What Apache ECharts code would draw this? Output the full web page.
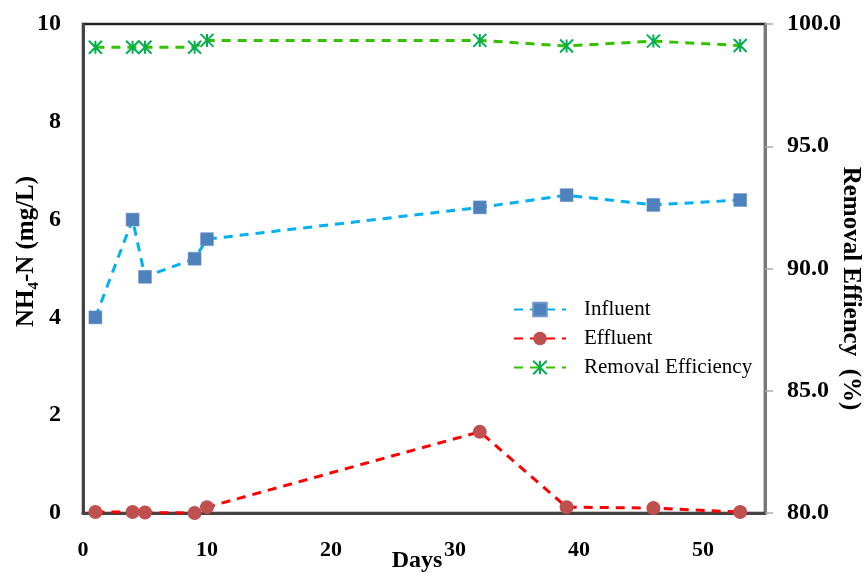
<!DOCTYPE html>
<html>
<head>
<meta charset="utf-8">
<script src="https://cdn.jsdelivr.net/npm/echarts@6/dist/echarts.min.js"></script>
<style>
html,body{margin:0;padding:0;background:#fff;}
#chart{width:866px;height:573px;}
</style>
</head>
<body>
<div id="chart"></div>
<script>
var days = [1, 4, 5, 9, 10, 32, 39, 46, 53];
var influent = [4.0, 6.0, 4.83, 5.2, 5.6, 6.25, 6.5, 6.3, 6.4];
var effluent = [0.02, 0.02, 0.01, 0.0, 0.12, 1.66, 0.12, 0.1, 0.02];
var removal = [99.05, 99.05, 99.05, 99.05, 99.33, 99.33, 99.1, 99.3, 99.12];
var leftTicks = [0, 2, 4, 6, 8, 10];
var rightTicks = [80, 85, 90, 95, 100];

function pairs(xs, ys) { return xs.map(function (x, i) { return [x, ys[i]]; }); }

var FONT = 'Liberation Serif';
var asterisk = 'path://M0,0 L20,20 M0,20 L20,0 M10,0 L10,20';

var chart = echarts.init(document.getElementById('chart'));
chart.setOption({
  animation: false,
  backgroundColor: '#fff',
  grid: { left: 83, right: 101, top: 24, bottom: 60, containLabel: false, outerBoundsMode: 'none',
          show: true, borderColor: '#222', borderWidth: 2.5 },
  legend: {
    orient: 'vertical',
    left: 508,
    top: 294,
    itemWidth: 52,
    itemHeight: 17,
    itemGap: 8,
    textStyle: { fontFamily: FONT, fontSize: 21, color: '#000', padding: [0, 0, 0, 13] },
    data: ['Influent', 'Effluent', 'Removal Efficiency']
  },
  xAxis: {
    type: 'value',
    min: 0, max: 55, interval: 10,
    name: 'Days',
    nameLocation: 'middle',
    nameGap: 36,
    nameMoveOverlap: false,
    nameTextStyle: { fontFamily: FONT, fontSize: 24, fontWeight: 'bold', color: '#000', padding: [0, 14, 0, 0] },
    axisLine: { show: true, lineStyle: { color: '#444', width: 3 } },
    axisTick: { show: false },
    splitLine: { show: false },
    axisLabel: { showMaxLabel: false, margin: 26, fontFamily: FONT, fontSize: 22, fontWeight: 'bold', color: '#000' }
  },
  yAxis: [
    {
      type: 'value',
      min: leftTicks[0], max: leftTicks[leftTicks.length - 1], interval: 2,
      name: 'NH\u2084-N (mg/L)',
      nameLocation: 'middle',
      nameGap: 44,
      nameMoveOverlap: false,
      nameTextStyle: { fontFamily: FONT, fontSize: 25, fontWeight: 'bold', color: '#000', padding: [0, 0, 0, 34] },
      axisLine: { show: true, lineStyle: { color: '#444', width: 3 } },
      axisTick: { show: false },
      splitLine: { show: false },
      axisLabel: { margin: 22, fontFamily: FONT, fontSize: 24, fontWeight: 'bold', color: '#000' }
    },
    {
      type: 'value',
      min: rightTicks[0], max: rightTicks[rightTicks.length - 1], interval: 5,
      position: 'right',
      name: 'Removal Effiency  (%)',
      nameLocation: 'middle',
      nameGap: 73,
      nameRotate: -90,
      nameMoveOverlap: false,
      nameTextStyle: { fontFamily: FONT, fontSize: 25, fontWeight: 'bold', color: '#000', padding: [0, 0, 0, 40] },
      axisLine: { show: true, lineStyle: { color: '#777', width: 3 } },
      axisTick: { show: true, inside: false, length: 8, lineStyle: { color: '#aaa', width: 1.5 } },
      splitLine: { show: false },
      axisLabel: { margin: 22, fontFamily: FONT, fontSize: 24, fontWeight: 'bold', color: '#000',
        formatter: function (v) { return v.toFixed(1); } }
    }
  ],
  series: [
    {
      name: 'Influent', type: 'line', yAxisIndex: 0,
      data: pairs(days, influent),
      symbol: 'rect', symbolSize: 13,
      itemStyle: { color: '#4F81BD', borderColor: '#6f97c9', borderWidth: 0.5 },
      lineStyle: { color: '#00B0F0', width: 3, type: [9, 7] },
      z: 3
    },
    {
      name: 'Effluent', type: 'line', yAxisIndex: 0,
      data: pairs(days, effluent),
      symbol: 'circle', symbolSize: 14,
      itemStyle: { color: '#C0504D' },
      lineStyle: { color: '#FF0000', width: 3, type: [9, 7] },
      z: 4
    },
    {
      name: 'Removal Efficiency', type: 'line', yAxisIndex: 1,
      data: pairs(days, removal),
      symbol: asterisk, symbolSize: 13,
      itemStyle: { color: 'rgba(0,0,0,0)', borderColor: '#00B050', borderWidth: 2 },
      lineStyle: { color: '#33C000', width: 3, type: [9, 7] },
      z: 3
    }
  ]
});
</script>
</body>
</html>
